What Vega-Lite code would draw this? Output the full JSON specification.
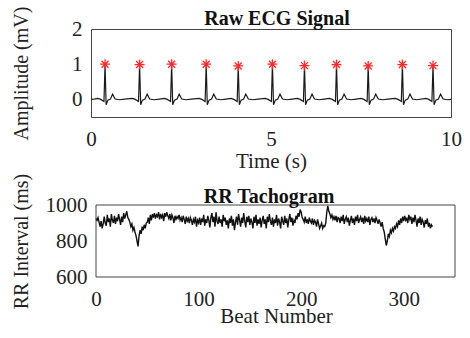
{
"$schema": "https://vega.github.io/schema/vega-lite/v6.json",
"padding": {"left": 11, "top": 5, "right": 0, "bottom": 0},
"spacing": 88,
"bounds": "flush",
"config": {
  "font": "Liberation Serif",
  "view": {"stroke": "#444", "strokeWidth": 1},
  "axis": {"grid": false, "domain": false, "ticks": false, "labelFont": "Liberation Serif", "labelFontSize": 21, "labelColor": "#222", "labelFlush": false, "labelOverlap": false, "titleFont": "Liberation Serif", "titleFontWeight": "normal", "titleColor": "#222", "titleFontSize": 21},
  "title": {"font": "Liberation Serif", "fontSize": 20, "fontWeight": "bold", "color": "#111"}
},
"datasets": {
  "ecg": [
    {"t":0.0,"v":0.0},{"t":0.08,"v":0.01},
    {"t":0.19,"v":0.03},{"t":0.27,"v":0.0},{"t":0.36,"v":-0.06},{"t":0.39,"v":1.0},{"t":0.42,"v":-0.15},{"t":0.47,"v":-0.02},{"t":0.54,"v":0.01},{"t":0.60,"v":0.15},{"t":0.67,"v":0.01},{"t":0.79,"v":-0.01},{"t":0.94,"v":0.01},
    {"t":1.15,"v":0.03},{"t":1.23,"v":0.0},{"t":1.32,"v":-0.06},{"t":1.35,"v":0.99},{"t":1.38,"v":-0.15},{"t":1.43,"v":-0.02},{"t":1.50,"v":0.01},{"t":1.56,"v":0.15},{"t":1.63,"v":0.01},{"t":1.75,"v":-0.01},{"t":1.90,"v":0.01},
    {"t":2.04,"v":0.03},{"t":2.12,"v":0.0},{"t":2.21,"v":-0.06},{"t":2.24,"v":1.0},{"t":2.27,"v":-0.15},{"t":2.32,"v":-0.02},{"t":2.39,"v":0.01},{"t":2.45,"v":0.15},{"t":2.52,"v":0.01},{"t":2.64,"v":-0.01},{"t":2.79,"v":0.01},
    {"t":3.00,"v":0.03},{"t":3.08,"v":0.0},{"t":3.17,"v":-0.06},{"t":3.20,"v":1.0},{"t":3.23,"v":-0.15},{"t":3.28,"v":-0.02},{"t":3.35,"v":0.01},{"t":3.41,"v":0.15},{"t":3.48,"v":0.01},{"t":3.60,"v":-0.01},{"t":3.75,"v":0.01},
    {"t":3.89,"v":0.03},{"t":3.97,"v":0.0},{"t":4.06,"v":-0.06},{"t":4.09,"v":0.95},{"t":4.12,"v":-0.15},{"t":4.17,"v":-0.02},{"t":4.24,"v":0.01},{"t":4.30,"v":0.15},{"t":4.37,"v":0.01},{"t":4.49,"v":-0.01},{"t":4.64,"v":0.01},
    {"t":4.84,"v":0.03},{"t":4.92,"v":0.0},{"t":5.01,"v":-0.06},{"t":5.04,"v":1.0},{"t":5.07,"v":-0.15},{"t":5.12,"v":-0.02},{"t":5.19,"v":0.01},{"t":5.25,"v":0.15},{"t":5.32,"v":0.01},{"t":5.44,"v":-0.01},{"t":5.59,"v":0.01},
    {"t":5.73,"v":0.03},{"t":5.81,"v":0.0},{"t":5.90,"v":-0.06},{"t":5.93,"v":0.96},{"t":5.96,"v":-0.15},{"t":6.01,"v":-0.02},{"t":6.08,"v":0.01},{"t":6.14,"v":0.15},{"t":6.21,"v":0.01},{"t":6.33,"v":-0.01},{"t":6.48,"v":0.01},
    {"t":6.62,"v":0.03},{"t":6.70,"v":0.0},{"t":6.79,"v":-0.06},{"t":6.82,"v":0.99},{"t":6.85,"v":-0.15},{"t":6.90,"v":-0.02},{"t":6.97,"v":0.01},{"t":7.03,"v":0.15},{"t":7.10,"v":0.01},{"t":7.22,"v":-0.01},{"t":7.37,"v":0.01},
    {"t":7.50,"v":0.03},{"t":7.58,"v":0.0},{"t":7.67,"v":-0.06},{"t":7.70,"v":0.95},{"t":7.73,"v":-0.15},{"t":7.78,"v":-0.02},{"t":7.85,"v":0.01},{"t":7.91,"v":0.15},{"t":7.98,"v":0.01},{"t":8.10,"v":-0.01},{"t":8.25,"v":0.01},
    {"t":8.45,"v":0.03},{"t":8.53,"v":0.0},{"t":8.62,"v":-0.06},{"t":8.65,"v":0.99},{"t":8.68,"v":-0.15},{"t":8.73,"v":-0.02},{"t":8.80,"v":0.01},{"t":8.86,"v":0.15},{"t":8.93,"v":0.01},{"t":9.05,"v":-0.01},
    {"t":9.30,"v":0.03},{"t":9.38,"v":0.0},{"t":9.47,"v":-0.06},{"t":9.50,"v":0.96},{"t":9.53,"v":-0.15},{"t":9.58,"v":-0.02},{"t":9.65,"v":0.01},{"t":9.71,"v":0.15},{"t":9.78,"v":0.01},{"t":9.90,"v":-0.01},{"t":10.0,"v":0.0}
  ],
  "peaks": [
    {"t":0.39,"v":1.0},{"t":1.35,"v":0.99},{"t":2.24,"v":1.0},{"t":3.20,"v":1.0},{"t":4.09,"v":0.95},{"t":5.04,"v":1.0},{"t":5.93,"v":0.96},{"t":6.82,"v":0.99},{"t":7.70,"v":0.95},{"t":8.65,"v":0.99},{"t":9.50,"v":0.96}
  ],
  "rr": [
    {"b":0,"r":925},{"b":1,"r":915},{"b":2,"r":930},{"b":3,"r":905},{"b":4,"r":880},{"b":5,"r":910},{"b":6,"r":870},{"b":7,"r":895},{"b":8,"r":935},{"b":9,"r":900},
    {"b":10,"r":885},{"b":11,"r":945},{"b":12,"r":905},{"b":13,"r":925},{"b":14,"r":880},{"b":15,"r":950},{"b":16,"r":915},{"b":17,"r":900},{"b":18,"r":940},{"b":19,"r":895},
    {"b":20,"r":930},{"b":21,"r":910},{"b":22,"r":950},{"b":23,"r":920},{"b":24,"r":890},{"b":25,"r":935},{"b":26,"r":905},{"b":27,"r":955},{"b":28,"r":925},{"b":29,"r":945},
    {"b":30,"r":965},{"b":31,"r":930},{"b":32,"r":920},{"b":33,"r":905},{"b":34,"r":880},{"b":35,"r":895},{"b":36,"r":860},{"b":37,"r":875},{"b":38,"r":850},{"b":39,"r":830},
    {"b":40,"r":800},{"b":41,"r":770},{"b":42,"r":830},{"b":43,"r":860},{"b":44,"r":840},{"b":45,"r":880},{"b":46,"r":860},{"b":47,"r":890},{"b":48,"r":870},{"b":49,"r":900},
    {"b":50,"r":905},{"b":51,"r":930},{"b":52,"r":895},{"b":53,"r":945},{"b":54,"r":915},{"b":55,"r":950},{"b":56,"r":930},{"b":57,"r":955},{"b":58,"r":925},{"b":59,"r":945},
    {"b":60,"r":935},{"b":61,"r":960},{"b":62,"r":920},{"b":63,"r":950},{"b":64,"r":930},{"b":65,"r":945},{"b":66,"r":910},{"b":67,"r":955},{"b":68,"r":935},{"b":69,"r":960},
    {"b":70,"r":940},{"b":71,"r":925},{"b":72,"r":950},{"b":73,"r":915},{"b":74,"r":945},{"b":75,"r":930},{"b":76,"r":900},{"b":77,"r":940},{"b":78,"r":920},{"b":79,"r":935},
    {"b":80,"r":925},{"b":81,"r":945},{"b":82,"r":915},{"b":83,"r":930},{"b":84,"r":905},{"b":85,"r":940},{"b":86,"r":920},{"b":87,"r":895},{"b":88,"r":935},{"b":89,"r":910},
    {"b":90,"r":925},{"b":91,"r":900},{"b":92,"r":930},{"b":93,"r":915},{"b":94,"r":890},{"b":95,"r":920},{"b":96,"r":905},{"b":97,"r":935},{"b":98,"r":880},{"b":99,"r":915},
    {"b":100,"r":900},{"b":101,"r":930},{"b":102,"r":890},{"b":103,"r":925},{"b":104,"r":905},{"b":105,"r":945},{"b":106,"r":885},{"b":107,"r":920},{"b":108,"r":900},{"b":109,"r":940},
    {"b":110,"r":915},{"b":111,"r":875},{"b":112,"r":930},{"b":113,"r":955},{"b":114,"r":905},{"b":115,"r":935},{"b":116,"r":880},{"b":117,"r":960},{"b":118,"r":910},{"b":119,"r":895},
    {"b":120,"r":935},{"b":121,"r":900},{"b":122,"r":920},{"b":123,"r":880},{"b":124,"r":945},{"b":125,"r":910},{"b":126,"r":930},{"b":127,"r":890},{"b":128,"r":915},{"b":129,"r":870},
    {"b":130,"r":925},{"b":131,"r":900},{"b":132,"r":940},{"b":133,"r":885},{"b":134,"r":920},{"b":135,"r":860},{"b":136,"r":905},{"b":137,"r":935},{"b":138,"r":890},{"b":139,"r":950},
    {"b":140,"r":915},{"b":141,"r":880},{"b":142,"r":930},{"b":143,"r":900},{"b":144,"r":955},{"b":145,"r":910},{"b":146,"r":875},{"b":147,"r":935},{"b":148,"r":905},{"b":149,"r":940},
    {"b":150,"r":890},{"b":151,"r":925},{"b":152,"r":905},{"b":153,"r":870},{"b":154,"r":935},{"b":155,"r":900},{"b":156,"r":945},{"b":157,"r":885},{"b":158,"r":920},{"b":159,"r":895},
    {"b":160,"r":930},{"b":161,"r":875},{"b":162,"r":915},{"b":163,"r":940},{"b":164,"r":895},{"b":165,"r":920},{"b":166,"r":870},{"b":167,"r":935},{"b":168,"r":905},{"b":169,"r":950},
    {"b":170,"r":910},{"b":171,"r":890},{"b":172,"r":930},{"b":173,"r":880},{"b":174,"r":920},{"b":175,"r":900},{"b":176,"r":945},{"b":177,"r":885},{"b":178,"r":925},{"b":179,"r":905},
    {"b":180,"r":870},{"b":181,"r":935},{"b":182,"r":910},{"b":183,"r":890},{"b":184,"r":940},{"b":185,"r":900},{"b":186,"r":925},{"b":187,"r":875},{"b":188,"r":920},{"b":189,"r":950},
    {"b":190,"r":905},{"b":191,"r":930},{"b":192,"r":885},{"b":193,"r":915},{"b":194,"r":900},{"b":195,"r":940},{"b":196,"r":920},{"b":197,"r":955},{"b":198,"r":935},{"b":199,"r":975},
    {"b":200,"r":960},{"b":201,"r":930},{"b":202,"r":920},{"b":203,"r":905},{"b":204,"r":935},{"b":205,"r":900},{"b":206,"r":920},{"b":207,"r":895},{"b":208,"r":930},{"b":209,"r":910},
    {"b":210,"r":900},{"b":211,"r":925},{"b":212,"r":890},{"b":213,"r":915},{"b":214,"r":905},{"b":215,"r":880},{"b":216,"r":920},{"b":217,"r":895},{"b":218,"r":870},{"b":219,"r":885},
    {"b":220,"r":900},{"b":221,"r":870},{"b":222,"r":885},{"b":223,"r":880},{"b":224,"r":900},{"b":225,"r":960},{"b":226,"r":995},{"b":227,"r":965},{"b":228,"r":950},{"b":229,"r":930},
    {"b":230,"r":945},{"b":231,"r":920},{"b":232,"r":935},{"b":233,"r":915},{"b":234,"r":940},{"b":235,"r":905},{"b":236,"r":930},{"b":237,"r":925},{"b":238,"r":900},{"b":239,"r":935},
    {"b":240,"r":910},{"b":241,"r":945},{"b":242,"r":895},{"b":243,"r":920},{"b":244,"r":935},{"b":245,"r":905},{"b":246,"r":930},{"b":247,"r":885},{"b":248,"r":915},{"b":249,"r":940},
    {"b":250,"r":900},{"b":251,"r":925},{"b":252,"r":890},{"b":253,"r":935},{"b":254,"r":910},{"b":255,"r":945},{"b":256,"r":900},{"b":257,"r":920},{"b":258,"r":935},{"b":259,"r":905},
    {"b":260,"r":930},{"b":261,"r":895},{"b":262,"r":940},{"b":263,"r":910},{"b":264,"r":925},{"b":265,"r":905},{"b":266,"r":935},{"b":267,"r":890},{"b":268,"r":920},{"b":269,"r":930},
    {"b":270,"r":905},{"b":271,"r":925},{"b":272,"r":900},{"b":273,"r":930},{"b":274,"r":915},{"b":275,"r":895},{"b":276,"r":920},{"b":277,"r":900},{"b":278,"r":880},{"b":279,"r":905},
    {"b":280,"r":870},{"b":281,"r":850},{"b":282,"r":810},{"b":283,"r":775},{"b":284,"r":800},{"b":285,"r":840},{"b":286,"r":825},{"b":287,"r":860},{"b":288,"r":845},{"b":289,"r":870},
    {"b":290,"r":855},{"b":291,"r":880},{"b":292,"r":870},{"b":293,"r":895},{"b":294,"r":880},{"b":295,"r":915},{"b":296,"r":890},{"b":297,"r":925},{"b":298,"r":900},{"b":299,"r":935},
    {"b":300,"r":910},{"b":301,"r":940},{"b":302,"r":915},{"b":303,"r":925},{"b":304,"r":900},{"b":305,"r":945},{"b":306,"r":920},{"b":307,"r":935},{"b":308,"r":895},{"b":309,"r":930},
    {"b":310,"r":905},{"b":311,"r":945},{"b":312,"r":915},{"b":313,"r":880},{"b":314,"r":925},{"b":315,"r":900},{"b":316,"r":935},{"b":317,"r":890},{"b":318,"r":920},{"b":319,"r":905},
    {"b":320,"r":875},{"b":321,"r":915},{"b":322,"r":895},{"b":323,"r":925},{"b":324,"r":880},{"b":325,"r":900},{"b":326,"r":870},{"b":327,"r":890},{"b":328,"r":880}
  ]
},
"vconcat": [
  {
    "title": {"text": "Raw ECG Signal", "offset": -20, "dx": 6, "dy": 3},
    "width": 360,
    "height": 88,
    "layer": [
      {
        "data": {"name": "ecg"},
        "mark": {"type": "line", "color": "#1a1a1a", "strokeWidth": 1.2},
        "encoding": {
          "x": {"field": "t", "type": "quantitative", "scale": {"domain": [0, 10], "nice": false}, "axis": {"title": "Time (s)", "values": [0, 5, 10], "labelPadding": 11, "titlePadding": 1}},
          "y": {"field": "v", "type": "quantitative", "scale": {"domain": [-0.5, 2], "nice": false, "zero": false}, "axis": {"title": "Amplitude (mV)", "values": [0, 1, 2], "labelPadding": 9, "titlePadding": 40, "minExtent": 0, "titleFontSize": 20}}
        }
      },
      {
        "data": {"name": "peaks"},
        "mark": {"type": "point", "shape": "M0,-1L0,1M-1,0L1,0M-0.7,-0.7L0.7,0.7M-0.7,0.7L0.7,-0.7", "stroke": "#ff2a2a", "strokeWidth": 1.3, "filled": false, "size": 100, "opacity": 1},
        "encoding": {
          "x": {"field": "t", "type": "quantitative"},
          "y": {"field": "v", "type": "quantitative"}
        }
      }
    ]
  },
  {
    "title": {"text": "RR Tachogram", "offset": -28, "dx": -4, "dy": 6},
    "width": 364,
    "height": 72,
    "view": {"stroke": null},
    "layer": [
      {
        "data": {"values": [{}]},
        "mark": {"type": "rect", "fill": null, "stroke": "#444", "strokeWidth": 1},
        "encoding": {
          "x": {"datum": 0, "type": "quantitative", "scale": {"domain": [-4.875, 350], "nice": false}, "axis": {"title": "Beat Number", "values": [0, 100, 200, 300], "labelPadding": 11, "titlePadding": -4, "titleX": 185}},
          "x2": {"datum": 350},
          "y": {"datum": 600, "type": "quantitative", "scale": {"domain": [600, 1000], "nice": false, "zero": false}, "axis": {"title": "RR Interval (ms)", "format": "d", "values": [600, 800, 1000], "labelPadding": 4, "titlePadding": 14, "minExtent": 0, "titleFontSize": 20}},
          "y2": {"datum": 1000}
        }
      },
      {
        "data": {"name": "rr"},
        "mark": {"type": "line", "color": "#111", "strokeWidth": 1.4},
        "encoding": {
          "x": {"field": "b", "type": "quantitative", "scale": {"domain": [-4.875, 350], "nice": false}, "axis": {"title": "Beat Number", "values": [0, 100, 200, 300], "labelPadding": 11, "titlePadding": -4, "titleX": 185}},
          "y": {"field": "r", "type": "quantitative", "scale": {"domain": [600, 1000], "nice": false, "zero": false}, "axis": {"title": "RR Interval (ms)", "format": "d", "values": [600, 800, 1000], "labelPadding": 4, "titlePadding": 14, "minExtent": 0, "titleFontSize": 20}}
        }
      }
    ]
  }
]
}
